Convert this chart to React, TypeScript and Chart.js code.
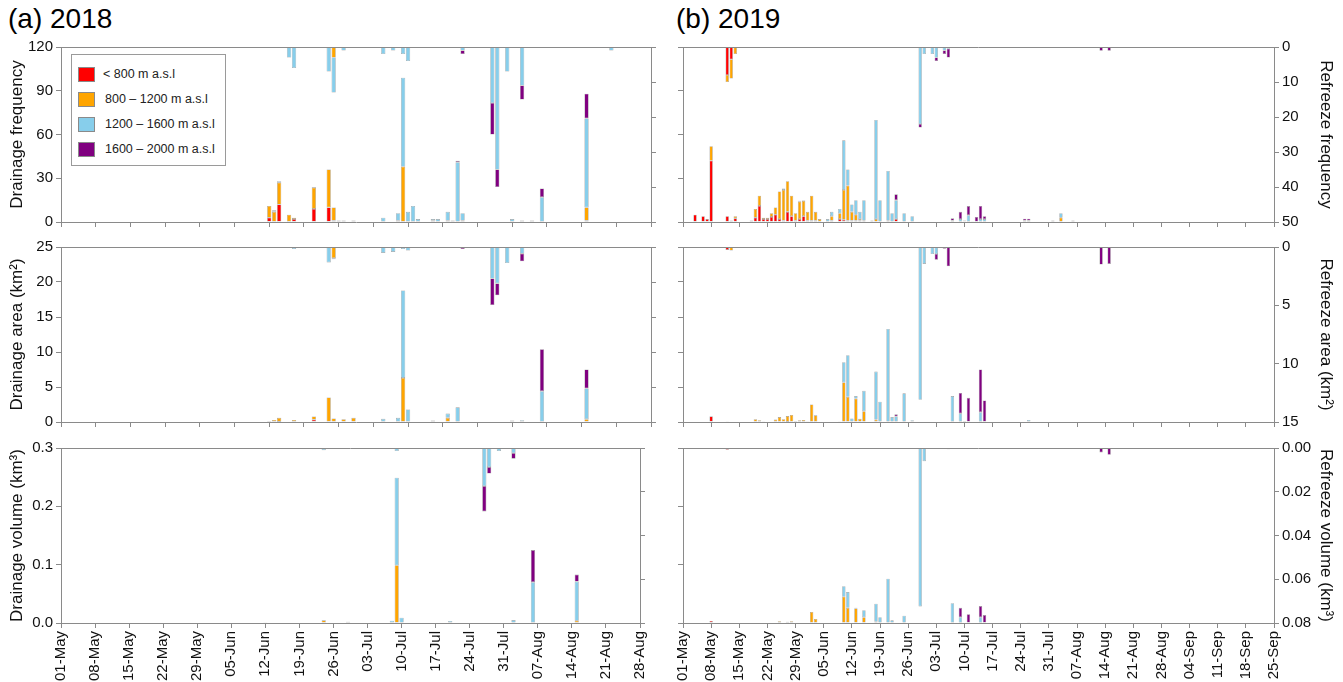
import React, { useEffect, useRef } from "react";
import { Chart, registerables } from "chart.js";
Chart.register(...registerables);

// ---------- legend / series ----------
const BAND_LABELS = ["< 800 m a.s.l", "800 – 1200 m a.s.l", "1200 – 1600 m a.s.l", "1600 – 2000 m a.s.l"];
const BAND_COLORS = ["#ff0000", "#ffa500", "#87ceeb", "#800080"];
const MONTHS = ["Jan", "Feb", "Mar", "Apr", "May", "Jun", "Jul", "Aug", "Sep", "Oct", "Nov", "Dec"];

// season span (days after 01-May)
const DAYS_2018 = 119; // 01-May .. 28-Aug
const DAYS_2019 = 147; // 01-May .. 25-Sep
const TICK_EVERY_DAYS = 7;

// axis ranges
const FREQ_TICKS = [0, 30, 60, 90, 120];
const REFREEZE_FREQ_TICKS = [0, 10, 20, 30, 40, 50];
const AREA_TICKS = [0, 5, 10, 15, 20, 25];
const REFREEZE_AREA_TICKS_2019 = [0, 5, 10, 15];
const REFREEZE_AREA_TICKS_2018 = [0, 5, 10, 15, 20, 25];
const VOLUME_TICKS = [0, 0.1, 0.2, 0.3];
const REFREEZE_VOLUME_TICKS = [0, 0.02, 0.04, 0.06, 0.08];

type Row = [string, number, number, number, number]; // date, <800, 800-1200, 1200-1600, 1600-2000

// ---------- 2018 ----------
const drainFreq2018: Row[] = [
  ["12-Jun", 3, 8, 0, 0], ["13-Jun", 0, 7, 1, 0], ["14-Jun", 12, 15, 1, 0], ["16-Jun", 0, 5, 0, 0],
  ["17-Jun", 2, 1, 0, 0], ["21-Jun", 9, 14.5, 0.5, 0], ["24-Jun", 10, 26, 0, 0], ["25-Jun", 1, 9, 0, 0],
  ["26-Jun", 1, 0, 0, 0], ["27-Jun", 0, 1, 0, 0], ["29-Jun", 0, 1, 0, 0], ["05-Jul", 0, 0, 3, 0],
  ["08-Jul", 0, 1, 5, 0], ["09-Jul", 0, 38, 61, 0], ["10-Jul", 0, 0, 7, 0], ["11-Jul", 0, 0, 11, 0],
  ["12-Jul", 0, 0, 2, 0], ["15-Jul", 0, 1, 1, 0], ["16-Jul", 0, 0, 2, 0], ["18-Jul", 0, 1, 6, 0],
  ["19-Jul", 0, 0, 1, 0], ["20-Jul", 0, 0, 41, 1], ["21-Jul", 1, 0, 5, 0], ["31-Jul", 0, 0, 2, 0],
  ["02-Aug", 0, 0, 1, 0], ["04-Aug", 0, 1, 0, 0], ["06-Aug", 0, 0, 17, 6], ["15-Aug", 1, 9, 61, 17],
];
const refreezeFreq2018: Row[] = [
  ["16-Jun", 0, 0, 3, 0], ["17-Jun", 0, 0, 6, 0], ["24-Jun", 0, 0, 7, 0], ["25-Jun", 0, 3, 10, 0],
  ["27-Jun", 0, 0, 1, 0], ["05-Jul", 0, 0, 2, 0], ["07-Jul", 0, 0, 1, 0], ["09-Jul", 0, 0, 2, 0],
  ["10-Jul", 0, 0, 4, 0], ["21-Jul", 0, 0, 1, 1], ["27-Jul", 0, 0, 16, 9], ["28-Jul", 0, 0, 35, 5],
  ["30-Jul", 0, 0, 7, 0], ["02-Aug", 0, 0, 11, 4], ["20-Aug", 0, 0, 1, 0],
];
const drainArea2018: Row[] = [
  ["12-Jun", 0, 0.15, 0, 0], ["13-Jun", 0, 0.3, 0, 0], ["14-Jun", 0.05, 0.55, 0, 0], ["17-Jun", 0, 0.3, 0, 0],
  ["21-Jun", 0.35, 0.45, 0, 0], ["24-Jun", 0, 3.5, 0, 0], ["25-Jun", 0, 0.5, 0, 0], ["27-Jun", 0, 0.4, 0, 0],
  ["29-Jun", 0, 0.6, 0, 0], ["05-Jul", 0, 0, 0.45, 0], ["08-Jul", 0, 0, 0.6, 0], ["09-Jul", 0, 6.3, 12.5, 0],
  ["10-Jul", 0, 0, 1.8, 0], ["15-Jul", 0, 0.2, 0, 0], ["18-Jul", 0, 0.6, 0.6, 0], ["20-Jul", 0, 0, 2.1, 0],
  ["31-Jul", 0, 0, 0.2, 0], ["02-Aug", 0, 0, 0.25, 0], ["06-Aug", 0, 0, 4.4, 6], ["15-Aug", 0, 0.4, 4.4, 2.7],
];
const refreezeArea2018: Row[] = [
  ["17-Jun", 0, 0, 0.3, 0], ["24-Jun", 0, 0, 2.2, 0], ["25-Jun", 0, 1.6, 0.15, 0], ["05-Jul", 0, 0, 0.85, 0],
  ["07-Jul", 0, 0, 0.7, 0], ["09-Jul", 0, 0, 0.3, 0], ["10-Jul", 0, 0, 0.5, 0], ["21-Jul", 0, 0, 0, 0.3],
  ["27-Jul", 0, 0, 4.5, 3.8], ["28-Jul", 0, 0, 5.2, 1.7], ["30-Jul", 0, 0, 2.3, 0], ["02-Aug", 0, 0, 0.95, 1.1],
];
const drainVol2018: Row[] = [
  ["12-Jun", 0, 0.0005, 0, 0], ["14-Jun", 0, 0.0008, 0, 0], ["21-Jun", 0, 0.0008, 0, 0], ["24-Jun", 0, 0.0046, 0, 0],
  ["25-Jun", 0, 0.001, 0, 0], ["29-Jun", 0, 0.002, 0, 0], ["05-Jul", 0, 0, 0.001, 0], ["08-Jul", 0, 0, 0.004, 0],
  ["09-Jul", 0, 0.099, 0.15, 0], ["10-Jul", 0, 0, 0.009, 0], ["18-Jul", 0, 0, 0.001, 0], ["20-Jul", 0, 0, 0.0035, 0],
  ["02-Aug", 0, 0, 0.005, 0], ["06-Aug", 0, 0, 0.07, 0.055], ["15-Aug", 0, 0.004, 0.067, 0.012],
];
const refreezeVol2018: Row[] = [
  ["24-Jun", 0, 0, 0.001, 0], ["25-Jun", 0, 0.0005, 0, 0], ["09-Jul", 0, 0, 0.0014, 0], ["10-Jul", 0, 0, 0.0005, 0],
  ["27-Jul", 0, 0, 0.0174, 0.0116], ["28-Jul", 0, 0, 0.0087, 0.003], ["30-Jul", 0, 0, 0.0014, 0],
  ["02-Aug", 0, 0, 0.0023, 0.0026],
];

// ---------- 2019 ----------
const drainFreq2019: Row[] = [
  ["04-May", 5, 0, 0, 0], ["06-May", 4, 0, 0, 0], ["07-May", 2, 0, 0, 0], ["08-May", 42, 10, 0, 0],
  ["12-May", 4, 0, 0, 0], ["13-May", 1, 0, 0, 0], ["14-May", 2.5, 1.5, 0, 0], ["18-May", 1, 0, 0, 0],
  ["19-May", 3, 6, 0, 0], ["20-May", 11, 7, 0, 0], ["21-May", 2, 1, 0, 0], ["22-May", 2, 1, 0, 0],
  ["23-May", 3.5, 2.5, 0, 0], ["24-May", 5, 5, 0, 0], ["25-May", 2, 19, 0, 0], ["26-May", 1, 21, 1, 0],
  ["27-May", 7, 21, 0, 0], ["28-May", 4, 14, 0, 0], ["29-May", 1, 5, 0, 0], ["30-May", 2, 12, 0.5, 0],
  ["31-May", 4, 10.5, 0.5, 0], ["01-Jun", 1, 6, 0, 0], ["02-Jun", 1, 17, 0, 0], ["03-Jun", 1, 6, 0, 0],
  ["04-Jun", 0, 2, 0, 0], ["06-Jun", 0, 0, 2, 0], ["07-Jun", 1, 3, 3, 0], ["09-Jun", 2, 4, 3, 0],
  ["10-Jun", 1.5, 20.5, 34, 0], ["11-Jun", 1, 24, 11, 0], ["12-Jun", 1, 6, 5, 0], ["13-Jun", 1, 4, 10, 0],
  ["14-Jun", 1, 1, 5, 0], ["15-Jun", 0, 1, 14, 0], ["17-Jun", 0, 0, 1, 0], ["18-Jun", 0, 2, 68, 0],
  ["19-Jun", 0, 0, 15, 0], ["21-Jun", 0, 1, 34, 0], ["22-Jun", 0, 0, 6, 0], ["23-Jun", 2, 0, 13, 4],
  ["25-Jun", 0, 0, 6, 0], ["27-Jun", 0, 0, 4, 0], ["07-Jul", 0, 0, 1, 1.5], ["09-Jul", 0, 0, 2, 5],
  ["10-Jul", 0.5, 0, 0, 0.5], ["11-Jul", 0, 0, 4.7, 6.2], ["12-Jul", 0.5, 0, 0, 0], ["13-Jul", 0, 0, 0, 3.5],
  ["14-Jul", 0, 0, 2, 9], ["15-Jul", 0, 0, 2, 2], ["25-Jul", 0, 0, 1, 1.3], ["26-Jul", 0, 0, 1, 1.3],
  ["01-Aug", 0, 0, 0, 1], ["03-Aug", 0, 3, 3, 0], ["06-Aug", 0, 0, 1, 0],
];
const refreezeFreq2019: Row[] = [
  ["12-May", 8, 2, 0, 0], ["13-May", 3.5, 5.5, 0, 0], ["14-May", 0, 2, 0, 0], ["29-Jun", 0, 0, 22, 1],
  ["30-Jun", 0, 0, 2, 0], ["02-Jul", 0, 0, 2, 0], ["03-Jul", 0, 0, 3, 1], ["05-Jul", 0, 0, 1, 1],
  ["06-Jul", 0, 0, 0.5, 2.5], ["13-Aug", 0, 0, 0, 1.1], ["15-Aug", 0, 0, 0, 1.1],
];
const drainArea2019: Row[] = [
  ["08-May", 0.8, 0.05, 0, 0], ["12-May", 0.05, 0, 0, 0], ["19-May", 0, 0.4, 0, 0], ["20-May", 0, 0.25, 0, 0],
  ["21-May", 0.05, 0, 0, 0], ["24-May", 0, 0.35, 0, 0], ["25-May", 0, 0.7, 0, 0], ["26-May", 0, 0.4, 0, 0],
  ["27-May", 0.05, 0.8, 0, 0], ["28-May", 0, 1.0, 0, 0], ["29-May", 0, 0.15, 0, 0], ["30-May", 0, 0.25, 0, 0],
  ["31-May", 0, 0.3, 0, 0], ["01-Jun", 0, 0.1, 0, 0], ["02-Jun", 0, 2.5, 0, 0], ["03-Jun", 0, 0.95, 0, 0],
  ["09-Jun", 0, 0.05, 0, 0], ["10-Jun", 0, 5.65, 2.9, 0], ["11-Jun", 0, 3.6, 5.95, 0], ["12-Jun", 0, 0, 0.5, 0],
  ["13-Jun", 0, 3.35, 0.35, 0], ["14-Jun", 0, 0.45, 0, 0], ["15-Jun", 0, 1.55, 2.9, 0], ["18-Jun", 0, 0.35, 6.85, 0],
  ["19-Jun", 0, 0, 2.9, 0], ["21-Jun", 0, 0, 13.3, 0], ["22-Jun", 0, 0, 0.7, 0], ["23-Jun", 0, 0, 0.8, 0.3],
  ["25-Jun", 0, 0, 4.1, 0], ["27-Jun", 0, 0, 0.25, 0], ["07-Jul", 0, 0, 3.7, 0], ["09-Jul", 0, 0, 1.24, 2.9],
  ["10-Jul", 0, 0, 0.15, 0], ["11-Jul", 0, 0, 0, 3.45], ["14-Jul", 0, 0, 1.4, 6.1], ["15-Jul", 0, 0, 0, 3.07],
  ["26-Jul", 0, 0, 0.3, 0],
];
const refreezeArea2019: Row[] = [
  ["12-May", 0.25, 0, 0, 0], ["13-May", 0, 0.3, 0, 0], ["29-Jun", 0, 0, 13.1, 0], ["30-Jun", 0, 0, 1.45, 0],
  ["02-Jul", 0, 0, 0.6, 0], ["03-Jul", 0, 0, 0.6, 0.5], ["05-Jul", 0, 0, 0, 0.15], ["06-Jul", 0, 0, 0, 1.65],
  ["13-Aug", 0, 0, 0, 1.5], ["15-Aug", 0, 0, 0, 1.45],
];
const drainVol2019: Row[] = [
  ["08-May", 0.0034, 0, 0, 0], ["19-May", 0, 0.001, 0, 0], ["24-May", 0, 0.001, 0, 0], ["25-May", 0, 0.003, 0, 0],
  ["27-May", 0, 0.002, 0, 0], ["28-May", 0, 0.003, 0, 0], ["31-May", 0, 0.001, 0, 0], ["02-Jun", 0, 0.019, 0, 0],
  ["03-Jun", 0, 0.007, 0, 0], ["10-Jun", 0, 0.045, 0.018, 0], ["11-Jun", 0, 0.026, 0.027, 0], ["12-Jun", 0, 0, 0.001, 0],
  ["13-Jun", 0, 0.025, 0.001, 0], ["15-Jun", 0, 0.01, 0.012, 0], ["18-Jun", 0, 0.002, 0.031, 0], ["19-Jun", 0, 0, 0.01, 0],
  ["21-Jun", 0, 0, 0.076, 0], ["22-Jun", 0, 0, 0.0046, 0], ["23-Jun", 0, 0, 0.001, 0], ["25-Jun", 0, 0, 0.0126, 0],
  ["07-Jul", 0, 0, 0.034, 0], ["09-Jul", 0, 0, 0.01, 0.016], ["11-Jul", 0, 0, 0, 0.015], ["14-Jul", 0, 0, 0.01, 0.019],
  ["15-Jul", 0, 0, 0, 0.0136], ["26-Jul", 0, 0, 0.0005, 0],
];
const refreezeVol2019: Row[] = [
  ["12-May", 0.0008, 0, 0, 0], ["29-Jun", 0, 0, 0.0724, 0], ["30-Jun", 0, 0, 0.006, 0], ["02-Jul", 0, 0, 0.0005, 0],
  ["03-Jul", 0, 0, 0.0005, 0], ["06-Jul", 0, 0, 0, 0.0006], ["13-Aug", 0, 0, 0, 0.002], ["15-Aug", 0, 0, 0, 0.0031],
];

// ---------- helpers ----------
const FONT = "'Liberation Sans', Arial, sans-serif";
const AXIS_GREY = "#8a8a8a";
const TEXT = "#111";
const BAR_EDGE = "rgba(105,105,105,0.65)";

function dayLabels(year: number, days: number): string[] {
  const out: string[] = [];
  for (let i = 0; i <= days; i++) {
    const d = new Date(Date.UTC(year, 4, 1 + i));
    out.push(`${String(d.getUTCDate()).padStart(2, "0")}-${MONTHS[d.getUTCMonth()]}`);
  }
  return out;
}

function bandSeries(labels: string[], rows: Row[], band: number): (number | null)[] {
  const data: (number | null)[] = labels.map(() => null);
  rows.forEach((r) => {
    const idx = labels.indexOf(r[0]);
    const v = r[band + 1];
    if (idx >= 0 && v > 0) data[idx] = v;
  });
  return data;
}

const framePlugin = {
  id: "frameTop",
  afterDatasetsDraw(chart: any) {
    const { ctx, chartArea: a } = chart;
    ctx.save();
    ctx.strokeStyle = AXIS_GREY;
    ctx.lineWidth = 1;
    ctx.beginPath();
    ctx.moveTo(a.left, Math.round(a.top) + 0.5);
    ctx.lineTo(a.right, Math.round(a.top) + 0.5);
    ctx.stroke();
    ctx.restore();
  },
};

type PanelProps = {
  labels: string[];
  drain: Row[];
  refreeze: Row[];
  yTicks: number[];
  y2Ticks: number[];
  yDigits: number;
  y2Digits: number;
  yTitle: string;
  y2Title: string;
  leftColumn: boolean;
  showX: boolean;
  left: number;
  top: number;
  width: number;
  height: number;
  yWidth: number;
  y2Width: number;
  barFrac: number;
};

function Panel(p: PanelProps) {
  const ref = useRef<HTMLCanvasElement>(null);
  useEffect(() => {
    const datasets: any[] = [];
    for (let b = 0; b < 4; b++) {
      datasets.push({
        label: BAND_LABELS[b],
        data: bandSeries(p.labels, p.drain, b),
        backgroundColor: BAND_COLORS[b],
        borderColor: BAR_EDGE,
        borderWidth: 0.6,
        borderSkipped: false,
        yAxisID: "y",
      });
    }
    for (let b = 0; b < 4; b++) {
      datasets.push({
        label: "refreeze " + BAND_LABELS[b],
        data: bandSeries(p.labels, p.refreeze, b),
        backgroundColor: BAND_COLORS[b],
        borderColor: BAR_EDGE,
        borderWidth: 0.6,
        borderSkipped: false,
        yAxisID: "y2",
      });
    }
    const yTicks = p.yTicks;
    const y2Ticks = p.y2Ticks;
    const chart = new Chart(ref.current as HTMLCanvasElement, {
      type: "bar",
      data: { labels: p.labels, datasets },
      plugins: [framePlugin],
      options: {
        animation: false,
        responsive: false,
        maintainAspectRatio: false,
        events: [],
        categoryPercentage: 1,
        barPercentage: p.barFrac,
        layout: { padding: { top: 12, left: 0, right: 0, bottom: 0 } },
        plugins: { legend: { display: false }, tooltip: { enabled: false } },
        scales: {
          x: {
            type: "category",
            offset: false,
            stacked: true,
            grid: {
              offset: false,
              drawOnChartArea: false,
              drawTicks: true,
              tickLength: 5,
              color: "rgba(0,0,0,0)",
              tickColor: (ctx: any) => (ctx.index % TICK_EVERY_DAYS === 0 ? AXIS_GREY : "rgba(0,0,0,0)"),
              tickWidth: 1,
            },
            border: { display: true, color: AXIS_GREY, width: 1 },
            ticks: {
              display: p.showX,
              autoSkip: false,
              maxRotation: 90,
              minRotation: 90,
              padding: 3,
              color: TEXT,
              font: { family: FONT, size: 15 },
              callback: (_v: any, i: number) => (i % TICK_EVERY_DAYS === 0 ? p.labels[i] : ""),
            },
            afterFit: (s: any) => {
              s.height = p.showX ? 59 : 12;
            },
          } as any,
          y: {
            position: "left",
            stacked: true,
            min: yTicks[0],
            max: yTicks[yTicks.length - 1],
            afterBuildTicks: (s: any) => {
              s.ticks = yTicks.map((v) => ({ value: v }));
            },
            grid: { drawOnChartArea: false, drawTicks: true, tickLength: 5, tickColor: AXIS_GREY, color: AXIS_GREY },
            border: { display: true, color: AXIS_GREY, width: 1 },
            ticks: {
              display: p.leftColumn,
              padding: 3,
              color: TEXT,
              font: { family: FONT, size: 15 },
              callback: (v: any) => Number(v).toFixed(p.yDigits),
            },
            title: {
              display: p.leftColumn,
              text: p.yTitle,
              color: TEXT,
              font: { family: FONT, size: 17 },
              padding: { top: 7, bottom: 0 },
            },
            afterFit: (s: any) => {
              s.width = p.yWidth;
            },
          } as any,
          y2: {
            position: "right",
            stacked: true,
            reverse: true,
            min: y2Ticks[0],
            max: y2Ticks[y2Ticks.length - 1],
            afterBuildTicks: (s: any) => {
              s.ticks = y2Ticks.map((v) => ({ value: v }));
            },
            grid: { drawOnChartArea: false, drawTicks: true, tickLength: 5, tickColor: AXIS_GREY, color: AXIS_GREY },
            border: { display: true, color: AXIS_GREY, width: 1 },
            ticks: {
              display: !p.leftColumn,
              padding: 3,
              color: TEXT,
              font: { family: FONT, size: 15 },
              callback: (v: any) => Number(v).toFixed(p.y2Digits),
            },
            title: {
              display: !p.leftColumn,
              text: p.y2Title,
              color: TEXT,
              font: { family: FONT, size: 17 },
              padding: { top: 7, bottom: 0 },
            },
            afterFit: (s: any) => {
              s.width = p.y2Width;
            },
          } as any,
        },
      } as any,
    });
    return () => chart.destroy();
  }, []);
  return (
    <canvas
      ref={ref}
      width={p.width}
      height={p.height}
      style={{ position: "absolute", left: p.left, top: p.top, width: p.width, height: p.height }}
    />
  );
}

function Legend() {
  return (
    <div
      style={{
        position: "absolute",
        left: 71,
        top: 54,
        width: 153,
        height: 110,
        border: "1px solid #9a9a9a",
        background: "#fff",
        fontFamily: FONT,
        fontSize: 12.5,
        color: "#222",
      }}
    >
      {BAND_LABELS.map((lab, i) => (
        <div key={lab} style={{ position: "absolute", left: 6, top: 11 + i * 25, height: 16, display: "flex", alignItems: "center" }}>
          <span
            style={{
              display: "inline-block",
              width: 17,
              height: 15,
              background: BAND_COLORS[i],
              border: "1px solid #8a8a8a",
              boxSizing: "border-box",
              flex: "none",
            }}
          />
          <span style={{ marginLeft: i === 0 ? 8 : 10, whiteSpace: "nowrap" }}>{lab}</span>
        </div>
      ))}
    </div>
  );
}

export default function App() {
  const labels2018 = dayLabels(2018, DAYS_2018);
  const labels2019 = dayLabels(2019, DAYS_2019);
  const rowsTop = [35, 235, 436];
  const rowsH = [199, 199, 246];
  const leftCol = { left: 0, width: 661, yWidth: 61, y2Width: 10 };
  const rightCol = { left: 668, width: 675, yWidth: 15, y2Width: 69 };

  const metrics = [
    {
      d18: drainFreq2018, r18: refreezeFreq2018, d19: drainFreq2019, r19: refreezeFreq2019,
      yTicks: FREQ_TICKS, y2Ticks18: REFREEZE_FREQ_TICKS, y2Ticks19: REFREEZE_FREQ_TICKS, yDigits: 0, y2Digits: 0,
      yTitle: "Drainage frequency", y2Title: "Refreeze frequency",
    },
    {
      d18: drainArea2018, r18: refreezeArea2018, d19: drainArea2019, r19: refreezeArea2019,
      yTicks: AREA_TICKS, y2Ticks18: REFREEZE_AREA_TICKS_2018, y2Ticks19: REFREEZE_AREA_TICKS_2019, yDigits: 0, y2Digits: 0,
      yTitle: "Drainage area (km²)", y2Title: "Refreeze area (km²)",
    },
    {
      d18: drainVol2018, r18: refreezeVol2018, d19: drainVol2019, r19: refreezeVol2019,
      yTicks: VOLUME_TICKS, y2Ticks18: REFREEZE_VOLUME_TICKS, y2Ticks19: REFREEZE_VOLUME_TICKS, yDigits: 1, y2Digits: 2,
      yTitle: "Drainage volume (km³)", y2Title: "Refreeze volume (km³)",
    },
  ];

  return (
    <div style={{ position: "absolute", left: 0, top: 0, width: 1343, height: 682, background: "#fff", overflow: "hidden" }}>
      <div style={{ position: "absolute", left: 8, top: 3, fontFamily: FONT, fontSize: 28, color: "#000" }}>(a) 2018</div>
      <div style={{ position: "absolute", left: 676, top: 3, fontFamily: FONT, fontSize: 28, color: "#000" }}>(b) 2019</div>
      {metrics.map((m, r) => (
        <React.Fragment key={r}>
          <Panel
            labels={labels2018}
            drain={m.d18}
            refreeze={m.r18}
            yTicks={m.yTicks}
            y2Ticks={m.y2Ticks18}
            yDigits={m.yDigits}
            y2Digits={m.y2Digits}
            yTitle={m.yTitle}
            y2Title={m.y2Title}
            leftColumn={true}
            showX={r === 2}
            left={leftCol.left}
            top={rowsTop[r]}
            width={leftCol.width}
            height={rowsH[r]}
            yWidth={leftCol.yWidth}
            y2Width={leftCol.y2Width}
            barFrac={0.86}
          />
          <Panel
            labels={labels2019}
            drain={m.d19}
            refreeze={m.r19}
            yTicks={m.yTicks}
            y2Ticks={m.y2Ticks19}
            yDigits={m.yDigits}
            y2Digits={m.y2Digits}
            yTitle={m.yTitle}
            y2Title={m.y2Title}
            leftColumn={false}
            showX={r === 2}
            left={rightCol.left}
            top={rowsTop[r]}
            width={rightCol.width}
            height={rowsH[r]}
            yWidth={rightCol.yWidth}
            y2Width={rightCol.y2Width}
            barFrac={0.84}
          />
        </React.Fragment>
      ))}
      <Legend />
    </div>
  );
}
